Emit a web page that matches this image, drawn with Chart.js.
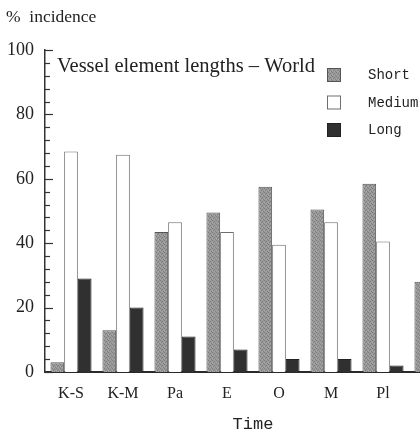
<!DOCTYPE html>
<html>
<head>
<meta charset="utf-8">
<script src="https://cdn.jsdelivr.net/npm/chart.js@4/dist/chart.umd.min.js"></script>
<style>
  html, body { margin: 0; padding: 0; background: #fff; overflow: hidden; width: 420px; height: 435px; }
  #wrap { position: relative; width: 480px; height: 435px; }
</style>
</head>
<body>
<div id="wrap"><canvas id="c" width="480" height="435"></canvas></div>
<script>
// ---- data ----
const categories = ['K-S', 'K-M', 'Pa', 'E', 'O', 'M', 'Pl', 'Q'];
const shortValues = [3, 13, 43.5, 49.5, 57.5, 50.5, 58.5, 28];
const mediumValues = [68.5, 67.5, 46.5, 43.5, 39.5, 46.5, 40.5, null];
const longValues = [29, 20, 11, 7, 4, 4, 2, null];
const seriesNames = ['Short', 'Medium', 'Long'];
const yTickLabels = [0, 20, 40, 60, 80, 100];
const yAxisLabel = '%  incidence';
const xAxisLabel = 'Time';
const chartTitle = 'Vessel element lengths \u2013 World';

// stippled gray fill for "Short"
function makeStipple() {
  const p = document.createElement('canvas');
  p.width = 4; p.height = 4;
  const g = p.getContext('2d');
  g.fillStyle = '#9a9a9a';
  g.fillRect(0, 0, 4, 4);
  g.fillStyle = '#7c7c7c';
  g.fillRect(0, 0, 1, 1); g.fillRect(2, 1, 1, 1); g.fillRect(1, 2, 1, 1); g.fillRect(3, 3, 1, 1);
  g.fillStyle = '#ababab';
  g.fillRect(2, 3, 1, 1); g.fillRect(0, 2, 1, 1);
  return g.createPattern(p, 'repeat');
}
const ctx = document.getElementById('c').getContext('2d');
const stipple = makeStipple();

const serif = "'Liberation Serif', 'DejaVu Serif', serif";
const mono = "'Liberation Mono', 'DejaVu Sans Mono', monospace";

const textPlugin = {
  id: 'textPlugin',
  afterDraw(chart) {
    const c = chart.ctx;
    const a = chart.chartArea;
    const y = chart.scales.y;
    c.save();
    // inward y ticks
    c.strokeStyle = '#333';
    c.lineWidth = 1.2;
    y.ticks.forEach(t => {
      const py = Math.round(y.getPixelForValue(t.value)) + 0.5;
      const len = (t.value % 20 === 0) ? 8 : 5;
      c.beginPath();
      c.moveTo(a.left, py);
      c.lineTo(a.left + len, py);
      c.stroke();
    });
    // axis label at top
    c.fillStyle = '#222';
    c.textBaseline = 'alphabetic';
    c.textAlign = 'left';
    c.font = '17.5px ' + serif;
    c.fillText(yAxisLabel, 6, 22);
    // inner title
    c.font = '20.5px ' + serif;
    c.fillText(chartTitle, a.left + 12, a.top + 22);
    // legend
    const ds = chart.data.datasets;
    c.font = '14px ' + mono;
    c.textBaseline = 'middle';
    for (let i = 0; i < ds.length; i++) {
      const bx = a.left + 282, by = a.top + 18 + i * 27.5;
      c.fillStyle = ds[i].backgroundColor;
      c.fillRect(bx, by, 14, 14);
      c.strokeStyle = ds[i].borderColor;
      c.lineWidth = 1;
      c.strokeRect(bx + 0.5, by + 0.5, 13, 13);
      c.fillStyle = '#222';
      c.fillText(ds[i].label, a.left + 323, by + 7.5);
    }
    c.restore();
  }
};

new Chart(ctx, {
  type: 'bar',
  data: {
    labels: categories,
    datasets: [
      { label: seriesNames[0], data: shortValues, backgroundColor: stipple, borderColor: '#555', borderWidth: 1 },
      { label: seriesNames[1], data: mediumValues, backgroundColor: '#ffffff', borderColor: '#6e6e6e', borderWidth: 1 },
      { label: seriesNames[2], data: longValues, backgroundColor: '#303030', borderColor: '#222', borderWidth: 1 }
    ]
  },
  options: {
    responsive: false,
    animation: false,
    devicePixelRatio: 1,
    layout: { padding: { top: 50, left: 0, right: 19, bottom: 0 } },
    datasets: { bar: { barPercentage: 1.0, categoryPercentage: 0.79 } },
    plugins: { legend: { display: false }, tooltip: { enabled: false }, title: { display: false } },
    scales: {
      x: {
        type: 'category',
        offset: true,
        grid: { display: false, drawTicks: false },
        border: { display: true, color: '#2a2a2a', width: 2 },
        ticks: { font: { family: serif, size: 16 }, color: '#222', padding: 12, maxRotation: 0, autoSkip: false },
        title: { display: true, text: xAxisLabel, font: { family: mono, size: 17 }, color: '#222', padding: { top: 7, bottom: 0 } },
        afterFit(s) { s.height = 63; }
      },
      y: {
        min: 0, max: 100,
        grid: { display: false, drawTicks: false },
        border: { display: true, color: '#333', width: 1.5 },
        ticks: {
          stepSize: 4,
          autoSkip: false,
          font: { family: serif, size: 18 },
          color: '#222',
          padding: 11,
          callback: (v) => yTickLabels.includes(v) ? String(v) : ''
        },
        afterFit(s) { s.width = 45; }
      }
    }
  },
  plugins: [textPlugin]
});
</script>
</body>
</html>
